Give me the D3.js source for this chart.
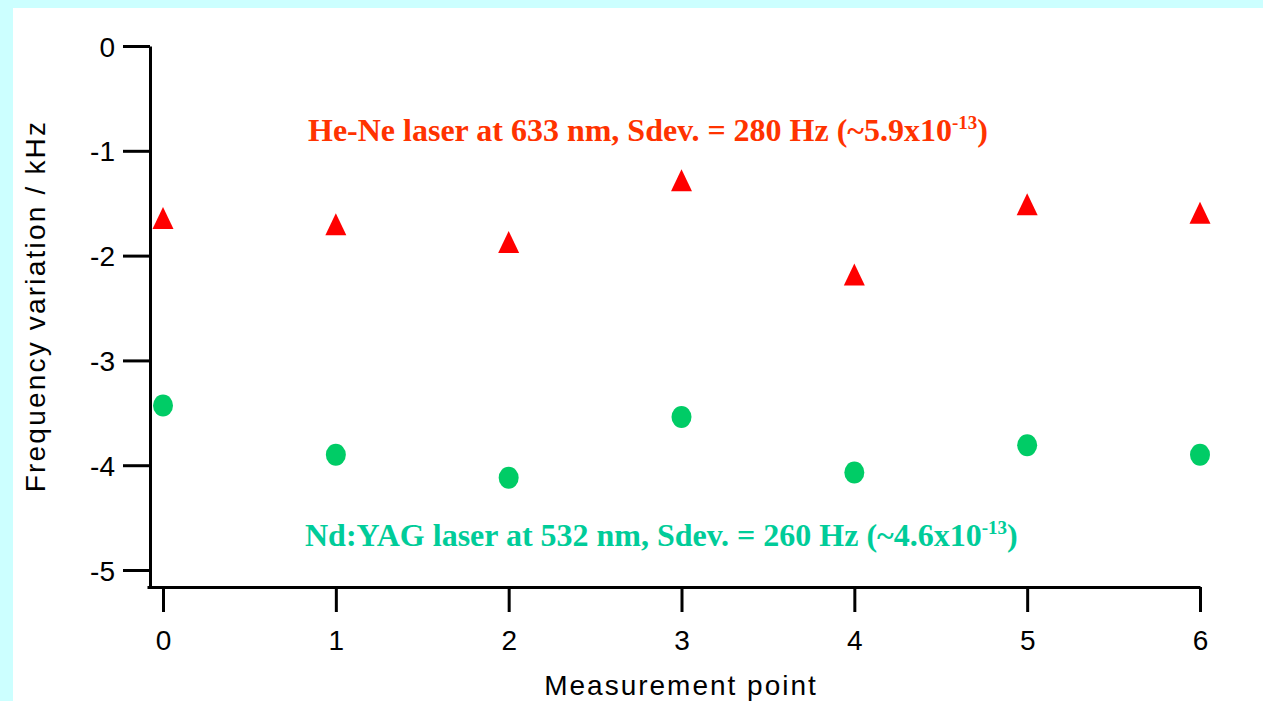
<!DOCTYPE html>
<html>
<head>
<meta charset="utf-8">
<script src="https://cdn.jsdelivr.net/npm/d3@7"></script>
<style>
  html, body { margin: 0; padding: 0; background: #ccffff; overflow: hidden; }
  svg { display: block; }
</style>
</head>
<body>
<script>
// ---- Data ----
const measurementPoints = [0, 1, 2, 3, 4, 5, 6];
const heNeValues = [-1.64, -1.70, -1.87, -1.28, -2.18, -1.51, -1.59];
const ndYagValues = [-3.43, -3.90, -4.12, -3.54, -4.07, -3.81, -3.90];
const xTickValues = [0, 1, 2, 3, 4, 5, 6];
const yTickValues = [0, -1, -2, -3, -4, -5];
const xAxisTitle = "Measurement point";
const yAxisTitle = "Frequency variation / kHz";
const heNeLabel = { main: "He-Ne laser at 633 nm, Sdev. = 280 Hz (~5.9x10", sup: "-13", end: ")" };
const ndYagLabel = { main: "Nd:YAG laser at 532 nm, Sdev. = 260 Hz (~4.6x10", sup: "-13", end: ")" };

const W = 1263, H = 701;
const svg = d3.select("body").append("svg").attr("width", W).attr("height", H);

// white plotting page (cyan frame on top and left)
svg.append("rect").attr("x", 13).attr("y", 8).attr("width", W - 13).attr("height", H - 8).attr("fill", "#ffffff");

const x = d3.scaleLinear().domain([-0.0926, 6]).range([147, 1200]);
const y = d3.scaleLinear().domain([-5.162, 0]).range([587, 46]);

const sansFont = "'Liberation Sans', Arial, sans-serif";
const serifFont = "'Liberation Serif', 'Times New Roman', serif";

// axes
const xAxis = d3.axisBottom(x).tickValues(xTickValues).tickSize(25).tickSizeOuter(0).tickPadding(18).tickFormat(d3.format("d"));
const yAxis = d3.axisLeft(y).tickValues(yTickValues).tickSize(27).tickSizeOuter(0).tickPadding(8).tickFormat(d => d === 0 ? "0" : "-" + Math.abs(d));

const gx = svg.append("g").attr("transform", `translate(0,${y.range()[0]})`).call(xAxis);
const gy = svg.append("g").attr("transform", `translate(${150},0)`).call(yAxis);

[gx, gy].forEach(g => {
  g.select(".domain").attr("stroke", "#000").attr("stroke-width", 3);
  g.selectAll(".tick line").attr("stroke", "#000").attr("stroke-width", 3);
  g.selectAll(".tick text").attr("fill", "#000").style("font-family", sansFont).style("font-size", "28px");
});
gy.selectAll(".tick text").attr("dy", "0.36em");

// axis titles
svg.append("text")
  .attr("x", 681).attr("y", 695)
  .attr("text-anchor", "middle")
  .style("font-family", sansFont).style("font-size", "28px").style("letter-spacing", "2px")
  .attr("fill", "#000")
  .text(xAxisTitle);

svg.append("text")
  .attr("transform", `translate(45,306) rotate(-90)`)
  .attr("text-anchor", "middle")
  .style("font-family", sansFont).style("font-size", "28px").style("letter-spacing", "2.2px")
  .attr("fill", "#000")
  .text(yAxisTitle);

// markers
const triW = 21, triH = 22;
svg.append("g").selectAll("path")
  .data(measurementPoints.map((p, i) => ({ p, v: heNeValues[i] })))
  .join("path")
  .attr("transform", d => `translate(${x(d.p)},${y(d.v)})`)
  .attr("d", `M0,${-triH / 2}L${triW / 2},${triH / 2}L${-triW / 2},${triH / 2}Z`)
  .attr("fill", "#ff0000");

svg.append("g").selectAll("ellipse")
  .data(measurementPoints.map((p, i) => ({ p, v: ndYagValues[i] })))
  .join("ellipse")
  .attr("cx", d => x(d.p)).attr("cy", d => y(d.v))
  .attr("rx", 10).attr("ry", 11)
  .attr("fill", "#00cc66");

// annotations
function annotate(lbl, xPos, yPos, color) {
  const t = svg.append("text")
    .attr("x", xPos).attr("y", yPos)
    .style("font-family", serifFont).style("font-weight", "bold").style("font-size", "32px")
    .attr("fill", color);
  t.append("tspan").text(lbl.main);
  t.append("tspan").attr("dy", -12).style("font-size", "19px").text(lbl.sup);
  t.append("tspan").attr("dy", 12).text(lbl.end);
}
annotate(heNeLabel, 308, 141, "#ff3300");
annotate(ndYagLabel, 305, 546, "#00cc99");
</script>
</body>
</html>
